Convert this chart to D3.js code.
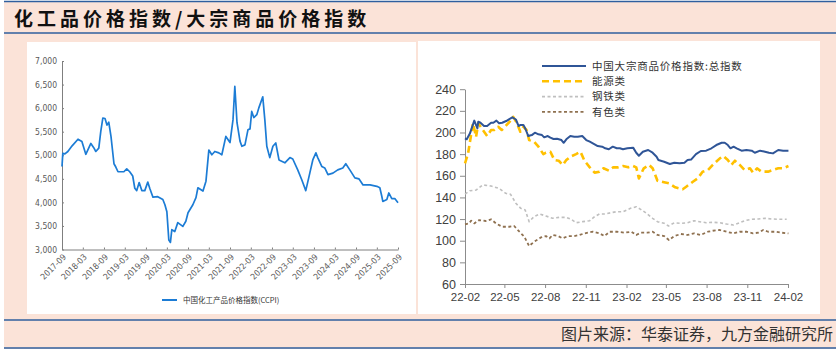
<!DOCTYPE html>
<html>
<head>
<meta charset="utf-8">
<script src="https://cdn.jsdelivr.net/npm/d3@7"></script>
<style>
  body { margin: 0; background: #fff; }
  svg { display: block; }
</style>
</head>
<body>
<svg id="chart" width="840" height="354"></svg>
<script>
// ---- data ----
const titleText = "化工品价格指数/大宗商品价格指数";
const sourceText = "图片来源：华泰证券，九方金融研究所";

// left: China chemical product price index (CCPI)
const ccpiLabel = "中国化工产品价格指数(CCPI)";
const ccpiTicks = ["2017-09", "2018-03", "2018-09", "2019-03", "2019-09", "2020-03", "2020-09",
  "2021-03", "2021-09", "2022-03", "2022-09", "2023-03", "2023-09", "2024-03", "2024-09",
  "2025-03", "2025-09"];
const ccpiYTicks = [3000, 3500, 4000, 4500, 5000, 5500, 6000, 6500, 7000];
const ccpi = [
  ["2017-09-01", 4760], ["2017-09-08", 5040], ["2017-09-26", 5030], ["2017-10-22", 5080],
  ["2017-11-28", 5200], ["2018-01-18", 5340], ["2018-02-21", 5290], ["2018-03-27", 5020],
  ["2018-05-10", 5250], ["2018-06-04", 5160], ["2018-06-22", 5080], ["2018-07-18", 5150],
  ["2018-08-04", 5500], ["2018-08-22", 5790], ["2018-09-10", 5780], ["2018-09-27", 5640],
  ["2018-10-13", 5700], ["2018-11-01", 5400], ["2018-11-27", 4820], ["2018-12-13", 4750],
  ["2019-01-01", 4650], ["2019-02-21", 4650], ["2019-03-18", 4710], ["2019-04-13", 4650],
  ["2019-05-09", 4560], ["2019-05-27", 4300], ["2019-06-13", 4250], ["2019-07-04", 4420],
  ["2019-07-27", 4250], ["2019-08-22", 4250], ["2019-09-17", 4430], ["2019-10-04", 4300],
  ["2019-11-01", 4110], ["2019-12-13", 4120], ["2020-01-26", 4060], ["2020-02-13", 3950],
  ["2020-03-01", 3800], ["2020-03-18", 3200], ["2020-04-01", 3150], ["2020-04-13", 3420],
  ["2020-05-09", 3380], ["2020-06-04", 3570], ["2020-07-18", 3490], ["2020-08-13", 3600],
  ["2020-09-01", 3780], ["2020-10-13", 3950], ["2020-11-09", 4100], ["2020-11-26", 4310],
  ["2021-01-09", 4240], ["2021-02-04", 4450], ["2021-03-01", 5110], ["2021-03-27", 5010],
  ["2021-04-22", 5080], ["2021-05-27", 5050], ["2021-06-22", 5010], ["2021-07-27", 5400],
  ["2021-09-01", 5270], ["2021-09-27", 5750], ["2021-10-13", 6460], ["2021-11-01", 5690],
  ["2021-11-27", 5300], ["2021-12-13", 5190], ["2022-01-09", 5220], ["2022-02-04", 5540],
  ["2022-02-22", 5560], ["2022-03-09", 5930], ["2022-03-27", 5800], ["2022-04-22", 5860],
  ["2022-05-09", 6000], ["2022-06-13", 6240], ["2022-07-01", 5750], ["2022-07-18", 5190],
  ["2022-08-13", 4950], ["2022-09-09", 5190], ["2022-10-04", 5260], ["2022-11-01", 4900],
  ["2022-12-22", 4840], ["2023-02-04", 4950], ["2023-03-01", 4920], ["2023-04-13", 4690],
  ["2023-05-18", 4480], ["2023-06-22", 4250], ["2023-07-27", 4620], ["2023-08-22", 4900],
  ["2023-09-18", 5050], ["2023-10-04", 4950], ["2023-11-09", 4760], ["2023-12-04", 4730],
  ["2024-01-01", 4590], ["2024-02-13", 4620], ["2024-03-26", 4690], ["2024-05-09", 4730],
  ["2024-06-04", 4820], ["2024-07-09", 4690], ["2024-08-22", 4520], ["2024-09-26", 4500],
  ["2024-11-01", 4370], ["2025-01-01", 4370], ["2025-03-01", 4340], ["2025-03-27", 4310],
  ["2025-04-13", 4130], ["2025-04-22", 4020], ["2025-05-27", 4060], ["2025-06-13", 4200],
  ["2025-07-09", 4080], ["2025-08-04", 4080], ["2025-09-01", 3990]
];

// right: China commodity price indices
const cbTicks = ["2022-02", "2022-05", "2022-08", "2022-11", "2023-02", "2023-05", "2023-08", "2023-11", "2024-02"];
const cbYTicks = [60, 80, 100, 120, 140, 160, 180, 200, 220, 240];
const seriesNames = ["中国大宗商品价格指数:总指数", "能源类", "钢铁类", "有色类"];
const totalIdx = [
  ["2022-02-01", 194.6], ["2022-02-05", 193.7], ["2022-02-12", 199], ["2022-02-22", 211],
  ["2022-03-01", 203.8], ["2022-03-03", 210], ["2022-03-08", 209], ["2022-03-16", 206],
  ["2022-03-23", 206], ["2022-04-01", 209], ["2022-04-06", 209], ["2022-04-13", 211],
  ["2022-04-19", 208.5], ["2022-04-26", 209], ["2022-05-05", 210.6], ["2022-05-19", 214],
  ["2022-05-27", 212], ["2022-06-02", 206], ["2022-06-07", 207], ["2022-06-13", 207],
  ["2022-06-18", 203], ["2022-06-24", 196.7], ["2022-07-02", 197.6], ["2022-07-09", 199.8],
  ["2022-07-17", 198.3], ["2022-07-25", 197.6], ["2022-07-30", 195.5], ["2022-08-07", 196.7],
  ["2022-08-13", 195.2], ["2022-08-20", 194], ["2022-08-28", 194.2], ["2022-09-07", 193],
  ["2022-09-12", 190.5], ["2022-09-18", 193.7], ["2022-09-27", 196.7], ["2022-10-06", 196],
  ["2022-10-14", 196], ["2022-10-24", 196.7], ["2022-11-02", 193], ["2022-11-10", 191.5],
  ["2022-11-17", 190], ["2022-11-28", 187.5], ["2022-12-08", 186.9], ["2022-12-15", 185.4],
  ["2022-12-23", 184.5], ["2023-01-01", 186.9], ["2023-01-10", 185.4], ["2023-01-17", 185.4],
  ["2023-01-24", 184.5], ["2023-02-03", 185.4], ["2023-02-16", 186], ["2023-02-23", 181.3],
  ["2023-03-01", 178.5], ["2023-03-10", 182.2], ["2023-03-22", 183.8], ["2023-04-01", 181.3],
  ["2023-04-10", 177.6], ["2023-04-14", 174.5], ["2023-04-27", 173], ["2023-05-10", 170.9],
  ["2023-05-20", 172], ["2023-06-01", 171.5], ["2023-06-12", 172], ["2023-06-19", 174.5],
  ["2023-06-27", 175], ["2023-07-08", 180], ["2023-07-19", 182.9], ["2023-07-31", 183.2],
  ["2023-08-12", 185.4], ["2023-08-23", 188.4], ["2023-09-04", 190.5], ["2023-09-11", 190.5],
  ["2023-09-18", 188.4], ["2023-09-24", 185.4], ["2023-10-01", 186.9], ["2023-10-08", 185.4],
  ["2023-10-19", 183.2], ["2023-10-30", 183.8], ["2023-11-11", 183.2], ["2023-11-18", 181.3],
  ["2023-11-30", 183.2], ["2023-12-11", 182.2], ["2023-12-20", 181.3], ["2023-12-29", 180.7],
  ["2024-01-10", 183.8], ["2024-01-21", 183.2], ["2024-02-02", 183.2]
];
const energyIdx = [
  ["2022-02-01", 171.5], ["2022-02-08", 180.7], ["2022-02-19", 208.5], ["2022-02-26", 196],
  ["2022-03-03", 208.5], ["2022-03-12", 203], ["2022-03-23", 196.7], ["2022-04-01", 202.3],
  ["2022-04-08", 202.3], ["2022-04-17", 205.3], ["2022-04-25", 202.3], ["2022-05-04", 206],
  ["2022-05-13", 210], ["2022-05-21", 214.5], ["2022-05-29", 209], ["2022-06-06", 200.7],
  ["2022-06-13", 205.3], ["2022-06-20", 202.3], ["2022-06-26", 193], ["2022-07-07", 191.5],
  ["2022-07-17", 186.9], ["2022-07-28", 180], ["2022-08-03", 181.3], ["2022-08-13", 182.2],
  ["2022-08-22", 174.5], ["2022-09-01", 173.9], ["2022-09-10", 170], ["2022-09-18", 174.5],
  ["2022-09-27", 177.6], ["2022-10-10", 180], ["2022-10-20", 182.2], ["2022-10-29", 173.9],
  ["2022-11-10", 167.8], ["2022-11-21", 162.9], ["2022-12-02", 163.8], ["2022-12-11", 166.9],
  ["2022-12-23", 164.7], ["2023-01-02", 167.8], ["2023-01-13", 167.8], ["2023-01-24", 169],
  ["2023-02-05", 167.8], ["2023-02-16", 169], ["2023-02-23", 167.8], ["2023-03-01", 157.6],
  ["2023-03-12", 166.9], ["2023-03-24", 170], ["2023-04-01", 166.9], ["2023-04-12", 155.4],
  ["2023-04-27", 154], ["2023-05-08", 153], ["2023-05-22", 149.3], ["2023-06-08", 147.5],
  ["2023-06-16", 149.9], ["2023-07-01", 154.5], ["2023-07-12", 157.6], ["2023-07-23", 163.7],
  ["2023-08-04", 165.3], ["2023-08-15", 170], ["2023-08-31", 176.1], ["2023-09-08", 178.2],
  ["2023-09-18", 174.5], ["2023-09-26", 170], ["2023-10-04", 173.9], ["2023-10-15", 170],
  ["2023-10-26", 165.3], ["2023-11-07", 166.9], ["2023-11-14", 162.9], ["2023-11-23", 166.9],
  ["2023-12-03", 163.8], ["2023-12-18", 163.8], ["2023-12-29", 165.3], ["2024-01-10", 166.9],
  ["2024-01-21", 166.9], ["2024-02-02", 169]
];
const steelIdx = [
  ["2022-02-01", 143.1], ["2022-02-12", 146.2], ["2022-02-26", 146.8], ["2022-03-13", 151.5],
  ["2022-04-01", 150.5], ["2022-04-19", 148.4], ["2022-05-04", 143.8], ["2022-05-15", 142.9],
  ["2022-05-27", 134.6], ["2022-06-07", 129.9], ["2022-06-17", 128.4], ["2022-06-26", 117.6],
  ["2022-07-07", 122.2], ["2022-07-20", 124.7], ["2022-08-03", 122.8], ["2022-08-18", 120.7],
  ["2022-09-03", 121.6], ["2022-09-18", 121.6], ["2022-09-29", 119.8], ["2022-10-10", 116.6],
  ["2022-10-25", 117.6], ["2022-11-10", 118.5], ["2022-11-21", 122.2], ["2022-12-02", 124.7],
  ["2022-12-15", 124.7], ["2022-12-28", 125.9], ["2023-01-10", 126.8], ["2023-01-24", 126.8],
  ["2023-02-10", 129.9], ["2023-02-23", 131.4], ["2023-03-05", 129], ["2023-03-16", 125.9],
  ["2023-04-01", 120.7], ["2023-04-12", 117.6], ["2023-04-27", 116.1], ["2023-05-07", 113.6],
  ["2023-05-20", 116.6], ["2023-06-04", 116.1], ["2023-06-19", 116.6], ["2023-07-04", 118.5],
  ["2023-07-16", 117.6], ["2023-07-31", 116.6], ["2023-08-15", 117], ["2023-08-31", 116.6],
  ["2023-09-15", 115.4], ["2023-10-01", 114.5], ["2023-10-15", 116.6], ["2023-10-26", 118.5],
  ["2023-11-11", 119.8], ["2023-11-26", 120.1], ["2023-12-11", 120.7], ["2023-12-26", 120.1],
  ["2024-01-10", 119.8], ["2024-01-29", 119.8]
];
const nonferrousIdx = [
  ["2022-02-01", 115.1], ["2022-02-10", 116], ["2022-02-15", 118.5], ["2022-02-22", 116],
  ["2022-03-05", 119.1], ["2022-03-20", 118.2], ["2022-04-01", 119.8], ["2022-04-12", 116],
  ["2022-04-26", 112.9], ["2022-05-12", 112.9], ["2022-05-23", 113.6], ["2022-06-04", 108.3],
  ["2022-06-15", 103.7], ["2022-06-26", 95.1], ["2022-07-07", 99], ["2022-07-23", 103.1],
  ["2022-08-03", 104.3], ["2022-08-11", 102.2], ["2022-08-18", 105.3], ["2022-08-30", 104.3],
  ["2022-09-10", 102.2], ["2022-09-22", 104.3], ["2022-10-06", 104.3], ["2022-10-18", 105.3],
  ["2022-10-29", 106.8], ["2022-11-17", 108.3], ["2022-12-02", 106.8], ["2022-12-13", 104.3],
  ["2022-12-25", 108.3], ["2023-01-10", 108.3], ["2023-01-28", 107.4], ["2023-02-12", 108.3],
  ["2023-02-23", 105.3], ["2023-03-05", 107.4], ["2023-03-20", 107.4], ["2023-04-01", 108.3],
  ["2023-04-12", 105.3], ["2023-04-27", 104.3], ["2023-05-08", 100.6], ["2023-05-20", 104.3],
  ["2023-06-04", 106.2], ["2023-06-19", 105.3], ["2023-07-04", 106.8], ["2023-07-19", 105.3],
  ["2023-08-04", 108.3], ["2023-08-15", 109.2], ["2023-08-31", 109.9], ["2023-09-15", 108.3],
  ["2023-10-01", 106.8], ["2023-10-15", 108.3], ["2023-10-30", 108.3], ["2023-11-14", 106.8],
  ["2023-11-26", 107.4], ["2023-12-07", 109.9], ["2023-12-18", 108.3], ["2024-01-03", 108.3],
  ["2024-01-18", 107.4], ["2024-02-02", 106.8]
];

// ---- setup ----
const parseDay = d3.timeParse("%Y-%m-%d");
const parseMonth = d3.timeParse("%Y-%m");
const toPoints = (arr) => arr.map(([d, v]) => ({ date: parseDay(d), value: v }));

const svg = d3.select("#chart");
const pink = "#fbe3d8";
const frameBlue = "#2f5f9e";
const cjk = "'Noto Sans CJK SC', 'Noto Sans', sans-serif";
const narrow = "'Liberation Sans Narrow', 'Arial Narrow', 'DejaVu Sans Condensed', sans-serif";
const latin = "'Liberation Sans', Arial, sans-serif";

// background frame
svg.append("rect").attr("x", 4).attr("y", 1).attr("width", 832).attr("height", 348).attr("fill", pink);
svg.append("rect").attr("x", 27).attr("y", 42).attr("width", 389).attr("height", 272).attr("fill", "#fff");
svg.append("rect").attr("x", 418).attr("y", 41).attr("width", 402).attr("height", 273).attr("fill", "#fff");
[1.5, 33, 320, 348].forEach((y) => {
  svg.append("line").attr("x1", 4).attr("x2", 836).attr("y1", y).attr("y2", y)
    .attr("stroke", frameBlue).attr("stroke-width", 1.5);
});

svg.append("text")
  .attr("x", 14).attr("y", 26)
  .attr("font-family", cjk).attr("font-weight", 700).attr("font-size", 19)
  .attr("letter-spacing", 4).attr("fill", "#111")
  .text(titleText);

svg.append("text")
  .attr("x", 833).attr("y", 340)
  .attr("text-anchor", "end")
  .attr("font-family", cjk).attr("font-size", 16).attr("fill", "#333")
  .text(sourceText);

// ---- left chart: CCPI ----
const lx = d3.scaleTime()
  .domain([parseMonth(ccpiTicks[0]), parseMonth(ccpiTicks[ccpiTicks.length - 1])])
  .range([62, 398]);
const ly = d3.scaleLinear().domain([3000, 7000]).range([249.5, 61]);

const lAxisY = svg.append("g")
  .attr("transform", "translate(62,0)")
  .call(d3.axisLeft(ly).tickValues(ccpiYTicks).tickSize(-2).tickSizeOuter(0)
    .tickPadding(5).tickFormat(d3.format(",")));
const lAxisX = svg.append("g")
  .attr("transform", "translate(0,249.5)")
  .call(d3.axisBottom(lx).tickValues(ccpiTicks.map(parseMonth)).tickSize(-2).tickSizeOuter(0)
    .tickFormat(d3.timeFormat("%Y-%m")));
lAxisX.selectAll("text")
  .attr("x", 0).attr("y", 0).attr("dy", "0.35em")
  .attr("text-anchor", "end")
  .attr("transform", "translate(2,6) rotate(-45)");
[lAxisY, lAxisX].forEach((g) => {
  g.select(".domain").attr("stroke", "#7f7f7f");
  g.selectAll(".tick line").attr("stroke", "#7f7f7f");
  g.selectAll("text").attr("font-family", narrow).attr("font-size", 8.5).attr("fill", "#595959");
});

svg.append("path")
  .datum(toPoints(ccpi))
  .attr("fill", "none")
  .attr("stroke", "#1c7cd5")
  .attr("stroke-width", 1.7)
  .attr("stroke-linejoin", "round")
  .attr("d", d3.line().x((d) => lx(d.date)).y((d) => ly(d.value)));

// bottom legend
svg.append("line").attr("x1", 162).attr("x2", 177).attr("y1", 300).attr("y2", 300)
  .attr("stroke", "#1c7cd5").attr("stroke-width", 2);
svg.append("text")
  .attr("x", 183).attr("y", 300).attr("dy", "0.35em")
  .attr("font-family", cjk).attr("font-size", 7.5).attr("fill", "#333")
  .text(ccpiLabel);

// ---- right chart: commodity indices ----
const rx = d3.scaleTime()
  .domain([parseMonth(cbTicks[0]), parseMonth(cbTicks[cbTicks.length - 1])])
  .range([465, 788]);
const ry = d3.scaleLinear().domain([60, 240]).range([284, 89.2]);

const rAxisY = svg.append("g")
  .attr("transform", "translate(465,0)")
  .call(d3.axisLeft(ry).tickValues(cbYTicks).tickSize(5).tickSizeOuter(0).tickPadding(4));
const rAxisX = svg.append("g")
  .attr("transform", "translate(0,284)")
  .call(d3.axisBottom(rx).tickValues(cbTicks.map(parseMonth)).tickSize(4).tickSizeOuter(0)
    .tickPadding(5).tickFormat(d3.timeFormat("%y-%m")));
[rAxisY, rAxisX].forEach((g) => {
  g.select(".domain").attr("stroke", "#8c8c8c");
  g.selectAll(".tick line").attr("stroke", "#8c8c8c");
  g.selectAll("text").attr("font-family", latin).attr("fill", "#404040");
});
rAxisY.selectAll("text").attr("font-size", 12.5);
rAxisX.selectAll("text").attr("font-size", 11.5);

const seriesStyles = [
  { data: totalIdx, color: "#2f5597", width: 2, dash: null },
  { data: energyIdx, color: "#ffc000", width: 2.6, dash: "7,4" },
  { data: steelIdx, color: "#bfbfbf", width: 1.6, dash: "3,2.5" },
  { data: nonferrousIdx, color: "#8f7150", width: 1.8, dash: "3,2.5" }
];
const rLine = d3.line().x((d) => rx(d.date)).y((d) => ry(d.value));

// draw back to front so the total index sits on top
seriesStyles.slice().reverse().forEach((s) => {
  svg.append("path")
    .datum(toPoints(s.data))
    .attr("fill", "none")
    .attr("stroke", s.color)
    .attr("stroke-width", s.width)
    .attr("stroke-dasharray", s.dash)
    .attr("stroke-linejoin", "round")
    .attr("d", rLine);
});

// legend
const legend = svg.append("g").selectAll("g")
  .data(seriesStyles)
  .join("g")
  .attr("transform", (d, i) => `translate(542,${66 + i * 15.3})`);
legend.append("line")
  .attr("x1", 0).attr("x2", 44)
  .attr("stroke", (d) => d.color)
  .attr("stroke-width", (d) => d.width)
  .attr("stroke-dasharray", (d) => d.dash);
legend.append("text")
  .attr("x", 50).attr("dy", "0.35em")
  .attr("font-family", cjk).attr("font-size", 10.5).attr("letter-spacing", 0.8)
  .attr("fill", "#333")
  .text((d, i) => seriesNames[i]);
</script>
</body>
</html>
